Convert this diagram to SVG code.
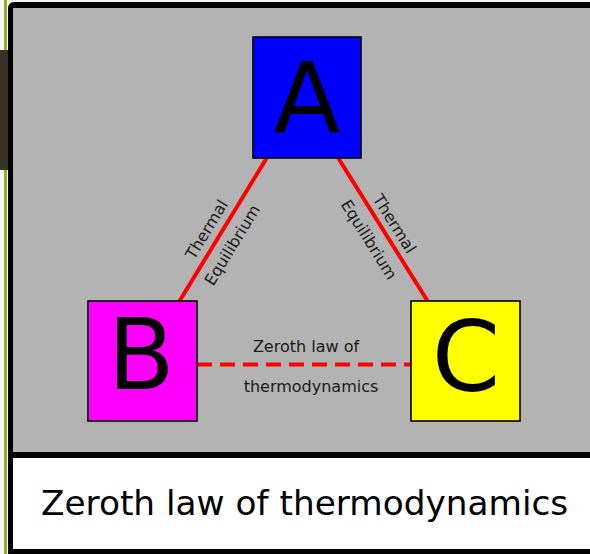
<svg xmlns="http://www.w3.org/2000/svg" width="590" height="554" viewBox="0 0 590 554">
<style>
.box{stroke:#000;stroke-width:1.6}
.big{font-family:"DejaVu Sans",sans-serif;font-size:98px;fill:#000;text-anchor:middle}
.lbl{font-family:"DejaVu Sans",sans-serif;font-size:16px;fill:#1a1a1a;text-anchor:middle}
.mid{font-family:"DejaVu Sans",sans-serif;font-size:16px;fill:#1a1a1a;text-anchor:middle}
.edge{stroke:#ff0000;stroke-width:4;fill:none}
</style>
<rect x="0" y="0" width="590" height="554" fill="#f4f4f0"/>
<rect x="4" y="0" width="3" height="554" fill="#9aab2a"/>
<rect x="0" y="50" width="8" height="120" fill="#3a3127"/>
<rect x="8" y="2" width="600" height="560" rx="6" fill="#000"/>
<rect x="13" y="8" width="580" height="444" fill="#b3b3b3"/>
<rect x="13" y="458" width="580" height="91" fill="#fff"/>
<g id="connectors">
<line class="edge" x1="302" y1="100" x2="143" y2="361"/>
<line class="edge" x1="302" y1="100" x2="465" y2="361"/>
<line class="edge" x1="197" y1="364.5" x2="411" y2="364.5" stroke-dasharray="15,8"/>
<g transform="translate(219,237) rotate(-58.6)">
<text class="lbl" x="0" y="-9">Thermal</text>
<text class="lbl" x="0" y="21">Equilibrium</text>
</g>
<g transform="translate(383,231) rotate(58)">
<text class="lbl" x="0" y="-8">Thermal</text>
<text class="lbl" x="0" y="22">Equilibrium</text>
</g>
<text class="mid" x="306" y="352">Zeroth law of</text>
<text class="mid" x="311" y="392">thermodynamics</text>
</g>
<g id="A">
<rect class="box" x="253" y="37" width="108" height="121" fill="#0000ff"/>
<text class="big" x="307" y="132">A</text>
</g>
<g id="B">
<rect class="box" x="88" y="301" width="109" height="120" fill="#ff00ff"/>
<text class="big" x="141" y="389">B</text>
</g>
<g id="C">
<rect class="box" x="411" y="301" width="109" height="120" fill="#ffff00"/>
<text class="big" x="466" y="391">C</text>
</g>
<text x="41" y="515" style="font-family:'DejaVu Sans',sans-serif;font-size:34.3px;fill:#000">Zeroth law of thermodynamics</text>
</svg>
